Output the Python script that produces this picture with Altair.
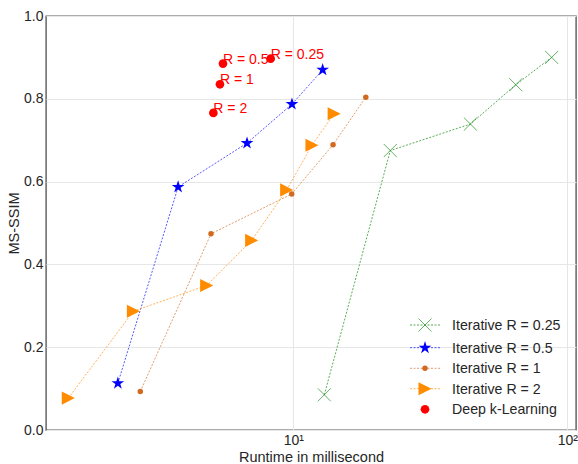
import altair as alt
import pandas as pd

# ---- data ----
x_r025 = [12.98, 22.6, 44.3, 64.9, 87.7]
y_r025 = [0.085, 0.675, 0.739, 0.834, 0.900]

x_r05 = [2.29, 3.80, 6.78, 9.89, 12.8]
y_r05 = [0.113, 0.587, 0.693, 0.787, 0.870]

x_r1 = [2.765, 5.01, 9.87, 13.97, 18.4]
y_r1 = [0.093, 0.474, 0.570, 0.689, 0.804]

x_r2 = [1.51, 2.61, 4.83, 7.05, 9.46, 11.7, 14.1]
y_r2 = [0.077, 0.287, 0.349, 0.458, 0.580, 0.688, 0.764]

deep_x = [8.27, 5.54, 5.40, 5.11]
deep_y = [0.897, 0.885, 0.835, 0.766]
deep_labels = ["R = 0.25", "R = 0.5", "R = 1", "R = 2"]

series_names = ["Iterative R = 0.25", "Iterative R = 0.5", "Iterative R = 1",
                "Iterative R = 2", "Deep k-Learning"]
series_colors = ["green", "blue", "chocolate", "darkorange", "red"]

X_PATH = "M-1,-1L1,1M-1,1L1,-1"
STAR_PATH = ("M0,-1L0.2245,-0.309L0.951,-0.309L0.363,0.118L0.588,0.809"
             "L0,0.382L-0.588,0.809L-0.363,0.118L-0.951,-0.309L-0.2245,-0.309Z")
TRI_PATH = "M-1,-1L1,0L-1,1Z"

FONT = "Liberation Sans"
TXT = "#262626"

xscale = alt.Scale(type="log", domain=[1.252, 107.6], nice=False)
yscale = alt.Scale(domain=[0, 1], nice=False)

xaxis = alt.Axis(title="Runtime in millisecond", values=[10, 100],
                 labelExpr="datum.value == 10 ? '10\u00b9' : '10\u00b2'",
                 grid=True, ticks=False, domain=False, labelPadding=3,
                 titlePadding=3)
yaxis = alt.Axis(title="MS-SSIM", values=[0, 0.2, 0.4, 0.6, 0.8, 1.0],
                 format=".1f", grid=True, ticks=False, domain=False,
                 labelPadding=3, titlePadding=2)

XE = alt.X("x:Q", scale=xscale, axis=xaxis)
YE = alt.Y("y:Q", scale=yscale, axis=yaxis)

series = [
    (x_r025, y_r025, 0, dict(shape=X_PATH, size=170, filled=False, strokeWidth=1, opacity=0.6)),
    (x_r05, y_r05, 1, dict(shape=STAR_PATH, size=180, filled=True, opacity=1)),
    (x_r1, y_r1, 2, dict(shape="circle", size=30, filled=True, opacity=1)),
    (x_r2, y_r2, 3, dict(shape=TRI_PATH, size=170, filled=True, opacity=1)),
]

layers = []
for i, (xs, ys, ci, mk) in enumerate(series):
    df = pd.DataFrame({"x": xs, "y": ys, "order": list(range(len(xs)))})
    base = alt.Chart(df)
    line = base.mark_line(color=series_colors[ci], strokeWidth=1,
                          strokeDash=[2, 1.5], opacity=0.65).encode(
        x=XE, y=YE, order="order:O")
    pts = base.mark_point(color=series_colors[ci], **mk).encode(x=XE, y=YE)
    layers += [line, pts]

deep_df = pd.DataFrame({"x": deep_x, "y": deep_y, "label": deep_labels})
deep_pts = alt.Chart(deep_df).mark_point(shape="circle", size=75, filled=True,
                                          color="red", opacity=1).encode(x=XE, y=YE)
deep_txt = alt.Chart(deep_df).mark_text(align="left", baseline="alphabetic",
                                         color="red", font=FONT, fontSize=14).encode(
    x=XE, y=YE, text="label:N")
layers += [deep_pts, deep_txt]

# ---- manual legend (line + marker like the reference) ----
one = pd.DataFrame({"a": [0]})
leg_rows = [309, 331.7, 352.3, 372.7, 393.3]
leg_marks = [
    dict(shape=X_PATH, size=170, filled=False, strokeWidth=1, opacity=0.6),
    dict(shape=STAR_PATH, size=180, filled=True, opacity=1),
    dict(shape="circle", size=30, filled=True, opacity=1),
    dict(shape=TRI_PATH, size=170, filled=True, opacity=1),
    dict(shape="circle", size=75, filled=True, opacity=1),
]
for k in range(5):
    yy = leg_rows[k]
    if k < 4:
        layers.append(alt.Chart(one).mark_rule(color=series_colors[k], strokeWidth=1,
                                               strokeDash=[2, 1.5], opacity=0.65).encode(
            x=alt.value(364), x2=alt.value(394), y=alt.value(yy)))
    layers.append(alt.Chart(one).mark_point(color=series_colors[k], **leg_marks[k]).encode(
        x=alt.value(379), y=alt.value(yy)))
    layers.append(alt.Chart(one).mark_text(align="left", baseline="middle", font=FONT,
                                           fontSize=14.2, color=TXT,
                                           text=series_names[k]).encode(
        x=alt.value(406), y=alt.value(yy + 1)))

chart = alt.layer(*layers).properties(
    width=530, height=414,
    padding={"left": 46, "top": 16, "right": 2, "bottom": 34},
    autosize=alt.AutoSizeParams(type="none"),
).configure_view(
    stroke="#5a5a5a", strokeWidth=1.4
).configure_axis(
    labelFont=FONT, titleFont=FONT, labelFontSize=14, titleFontSize=14.5,
    labelColor=TXT, titleColor=TXT, titleFontWeight="normal",
    gridColor="#e6e6e6", gridWidth=1,
)

chart.save("out.html", embed_options={"renderer": "svg", "actions": False})
